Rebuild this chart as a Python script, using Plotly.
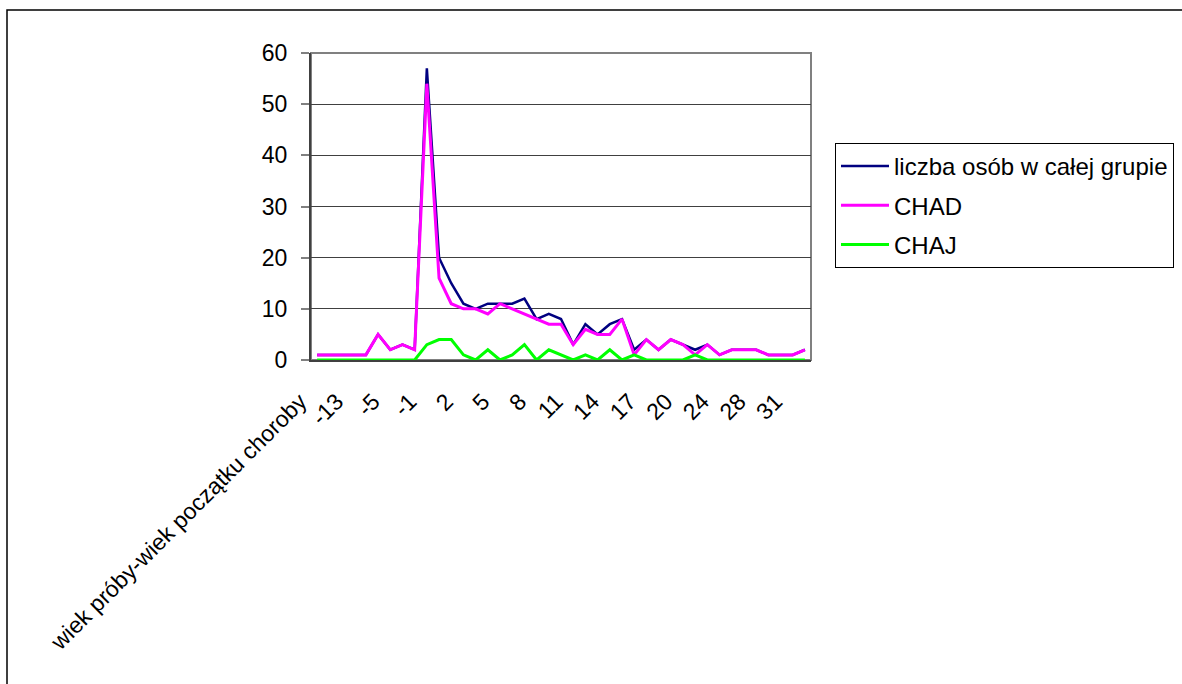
import plotly.graph_objects as go

# x categories: header cell followed by the age differences
categories = ["wiek próby-wiek początku choroby", "-19", "-16", "-13", "-10", "-7", "-5", "-3", "-2",
              "-1", "0", "1", "2", "3", "4", "5", "6", "7", "8", "9", "10",
              "11", "12", "13", "14", "15", "16", "17", "18", "19", "20",
              "21", "22", "24", "25", "26", "28", "29", "30", "31", "32"]

# counts per category
whole_group = [1, 1, 1, 1, 1, 5, 2, 3, 2,
               57, 20, 15, 11, 10, 11, 11, 11, 12, 8, 9, 8,
               3, 7, 5, 7, 8, 2, 4, 2, 4, 3,
               2, 3, 1, 2, 2, 2, 1, 1, 1, 2]
chad = [1, 1, 1, 1, 1, 5, 2, 3, 2,
        54, 16, 11, 10, 10, 9, 11, 10, 9, 8, 7, 7,
        3, 6, 5, 5, 8, 1, 4, 2, 4, 3,
        1, 3, 1, 2, 2, 2, 1, 1, 1, 2]
chaj = [0, 0, 0, 0, 0, 0, 0, 0, 0,
        3, 4, 4, 1, 0, 2, 0, 1, 3, 0, 2, 1,
        0, 1, 0, 2, 0, 1, 0, 0, 0, 0,
        1, 0, 0, 0, 0, 0, 0, 0, 0, 0]

series_names = ["liczba osób w całej grupie", "CHAD", "CHAJ"]
y_ticks = [0, 10, 20, 30, 40, 50, 60]
shown_labels = categories[::3]

FONT = "Liberation Sans, Arial, sans-serif"
FS = 23
W, H = 1182, 684
L, R, T, B = 311, 371, 53, 324
plot_w = W - L - R
plot_h = H - T - B


def px_x(px):
    return (px - L) / plot_w


def px_y(py):
    return (H - B - py) / plot_h


fig = go.Figure()
for name, vals, color, width in [
    (series_names[0], whole_group, "#000080", 2.5),
    (series_names[1], chad, "#FF00FF", 3),
    (series_names[2], chaj, "#00FF00", 3),
]:
    fig.add_trace(go.Scatter(x=categories, y=vals, mode="lines", name=name,
                             legendgroup=name,
                             line=dict(color=color, width=width)))

fig.update_layout(
    width=W, height=H,
    margin=dict(l=L, r=R, t=T, b=B, autoexpand=False),
    paper_bgcolor="white", plot_bgcolor="white",
    font=dict(family=FONT, size=FS, color="black"),
    xaxis=dict(type="category", categoryorder="array", categoryarray=categories,
               range=[-0.5, len(categories) - 0.5],
               tickmode="array", tickvals=shown_labels, ticktext=shown_labels,
               tickangle=-45, ticks="", showgrid=False, zeroline=False,
               showline=True, linecolor="#404040", linewidth=2,
               ticklabelstandoff=17, ticklabelshift=-17,
               tickfont=dict(family=FONT, size=FS)),
    xaxis2=dict(overlaying="x", anchor="y", side="bottom",
                range=[-0.5, len(categories) - 0.5],
                tickmode="linear", tick0=-0.5, dtick=1,
                ticks="outside", ticklen=8, tickwidth=2, tickcolor="#808080",
                showticklabels=False, showgrid=False, zeroline=False, showline=False),
    yaxis=dict(range=[0, 60], tickmode="array", tickvals=y_ticks,
               ticks="outside", ticklen=8, tickwidth=2, tickcolor="#808080",
               showgrid=True, gridcolor="#404040", gridwidth=1, zeroline=False,
               showline=True, linecolor="#404040", linewidth=2,
               ticklabelstandoff=9,
               tickfont=dict(family=FONT, size=FS)),
    legend=dict(x=px_x(835), y=px_y(143), xanchor="left", yanchor="top",
                bordercolor="black", borderwidth=1, bgcolor="white",
                font=dict(family=FONT, size=24), tracegroupgap=5,
                traceorder="grouped", itemwidth=48),
    shapes=[
        # plot area frame
        dict(type="rect", xref="paper", yref="paper", x0=0, x1=1, y0=0, y1=1,
             line=dict(color="#808080", width=2), layer="below"),
        # chart area frame
        dict(type="rect", xref="paper", yref="paper",
             x0=px_x(7), x1=px_x(1200), y0=px_y(700), y1=px_y(10),
             line=dict(color="black", width=1.5), layer="below"),
    ],
)

fig.write_html("out.html")
